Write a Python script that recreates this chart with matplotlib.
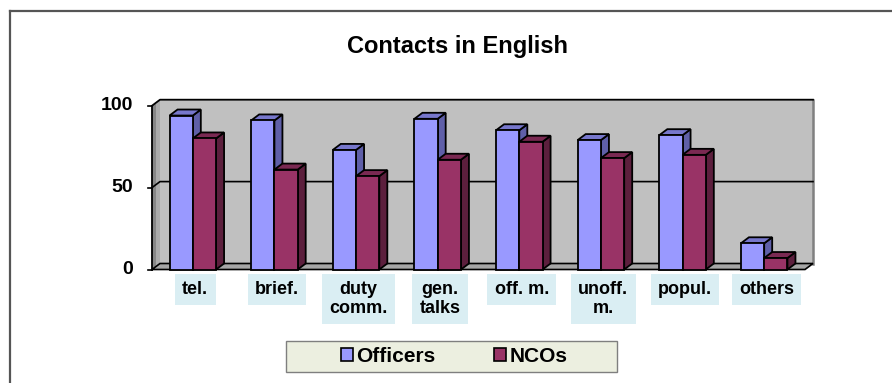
import matplotlib
matplotlib.use("Agg")
import matplotlib.pyplot as plt
from matplotlib.patches import Polygon, Rectangle, Patch
from matplotlib.lines import Line2D

# ---- data ----
categories = ["tel.", "brief.", "duty\ncomm.", "gen.\ntalks", "off. m.",
              "unoff.\nm.", "popul.", "others"]
officers = [94, 91, 73, 92, 85, 79, 82, 16]
ncos = [80, 61, 57, 67, 78, 68, 70, 7]
series_names = ["Officers", "NCOs"]
y_ticks = [0, 50, 100]

# ---- styling ----
W, H = 892, 383
plt.rcParams["font.family"] = ["Liberation Sans", "DejaVu Sans"]
plt.rcParams["font.weight"] = "bold"

front_colors = ["#9999FF", "#993366"]
top_colors = ["#7777CC", "#7A2952"]
side_colors = ["#5F5FA8", "#5C1F3D"]
wall_color = "#C0C0C0"
floor_color = "#A6A6A6"
label_bg = "#DAEEF3"
edge_lw = 1.3

fig = plt.figure(figsize=(W / 100, H / 100), dpi=100)
fig.patch.set_facecolor("white")

# plot area (front plane) in pixels
px_left, px_right = 152, 805
px_zero, px_top = 269.5, 105.7
ax = fig.add_axes([px_left / W, (H - px_zero) / H,
                   (px_right - px_left) / W, (px_zero - px_top) / H])
n = len(categories)
ax.set_xlim(-0.5, n - 0.5)
ax.set_ylim(0, 100)
ax.axis("off")

# depth offset of the 3-D projection, in data units
px_per_x = (px_right - px_left) / n
px_per_y = (px_zero - px_top) / 100
dx = 8 / px_per_x
dy = 6 / px_per_y

x0, x1 = -0.5, n - 0.5
ymax = y_ticks[-1]

def poly(pts, fc, ec="black", lw=edge_lw, z=1):
    p = Polygon(pts, closed=True, facecolor=fc, edgecolor=ec, linewidth=lw,
                zorder=z, clip_on=False, joinstyle="miter")
    ax.add_patch(p)

# back wall
poly([(x0 + dx, dy), (x1 + dx, dy), (x1 + dx, ymax + dy), (x0 + dx, ymax + dy)],
     wall_color, ec="none", z=1)
ax.plot([x1 + dx, x1 + dx], [dy, ymax + dy], color="#808080", lw=1.8,
        zorder=2, clip_on=False)
# left side wall (two tones)
poly([(x0, 0), (x0 + dx / 2, dy / 2), (x0 + dx / 2, ymax + dy / 2), (x0, ymax)],
     "#868686", ec="none", z=1.5)
poly([(x0 + dx / 2, dy / 2), (x0 + dx, dy), (x0 + dx, ymax + dy),
      (x0 + dx / 2, ymax + dy / 2)], "#ABABAB", ec="none", z=1.5)
ax.plot([x0, x0 + dx, x1 + dx], [ymax, ymax + dy, ymax + dy], color="black",
        lw=1.3, zorder=2, clip_on=False)
# floor
poly([(x0, 0), (x1, 0), (x1 + dx, dy), (x0 + dx, dy)], floor_color,
     ec="black", lw=1.2, z=2)

# gridlines on the walls
for t in y_ticks[1:-1]:
    ax.plot([x0, x0 + dx, x1 + dx], [t, t + dy, t + dy], color="black",
            lw=1.2, zorder=2, clip_on=False)

# value axis line, ticks and labels
ax.plot([x0, x0], [0, ymax], color="black", lw=1.3, zorder=3, clip_on=False)
tick_len = 4 / px_per_x
for t in y_ticks:
    ax.plot([x0 - tick_len, x0], [t, t], color="black", lw=1.2, zorder=3,
            clip_on=False)
    ax.text(x0 - 19 / px_per_x, t, str(t), ha="right", va="center",
            fontsize=14, fontweight="bold", color="black")

# 3-D bars
bar_w = 0.285
offsets = [-bar_w / 2, bar_w / 2]
for i in range(n):
    for s, vals in enumerate([officers, ncos]):
        v = vals[i]
        cx = i + offsets[s]
        l, r = cx - bar_w / 2, cx + bar_w / 2
        z = 4 + s * 0.1 + i * 0.01
        # front face via the library's bar
        ax.bar(cx, v, width=bar_w, color=front_colors[s], edgecolor="black",
               linewidth=edge_lw, zorder=z + 0.03, clip_on=False)
        # top face
        poly([(l, v), (r, v), (r + dx, v + dy), (l + dx, v + dy)],
             top_colors[s], z=z + 0.02)
        # right side face
        poly([(r, 0), (r + dx, dy), (r + dx, v + dy), (r, v)],
             side_colors[s], z=z + 0.01)

# category labels on light boxes
for i, lab in enumerate(categories):
    ax.text(i + 0.03, -7.0, lab, ha="center", va="top", multialignment="center",
            fontsize=13, fontweight="bold", color="black", linespacing=1.15,
            bbox=dict(boxstyle="square,pad=0.4", fc=label_bg, ec="none"))

# title
fig.text(457.5 / W, 1 - 47 / H, "Contacts in English", ha="center",
         va="center", fontsize=17, fontweight="bold", color="black")

# legend with its own frame
fig.add_artist(Rectangle((285.7 / W, (H - 371.7) / H), 331 / W, 30.7 / H,
                         transform=fig.transFigure, facecolor="#ECEFE0",
                         edgecolor="#7F7F7F", linewidth=1.0, zorder=5))
handles = [Patch(facecolor=front_colors[k], edgecolor="black", linewidth=1.2)
           for k in range(2)]
leg = fig.legend(handles, series_names, loc="center",
                 bbox_to_anchor=(454 / W, 1 - 356.5 / H), ncol=2,
                 frameon=False, prop={"weight": "bold", "size": 15},
                 handlelength=0.6, handleheight=0.6, handletextpad=0.15,
                 columnspacing=2.8, borderpad=0.1)
leg.set_zorder(6)

# outer chart frame
fig.add_artist(Line2D([9.5 / W, 9.5 / W], [0, 1 - 10.7 / H],
                      transform=fig.transFigure, color="#555555", lw=1.6))
fig.add_artist(Line2D([9.5 / W, 1], [1 - 10.7 / H, 1 - 10.7 / H],
                      transform=fig.transFigure, color="#555555", lw=1.6))

fig.savefig("out.png", dpi=100, facecolor="white")
